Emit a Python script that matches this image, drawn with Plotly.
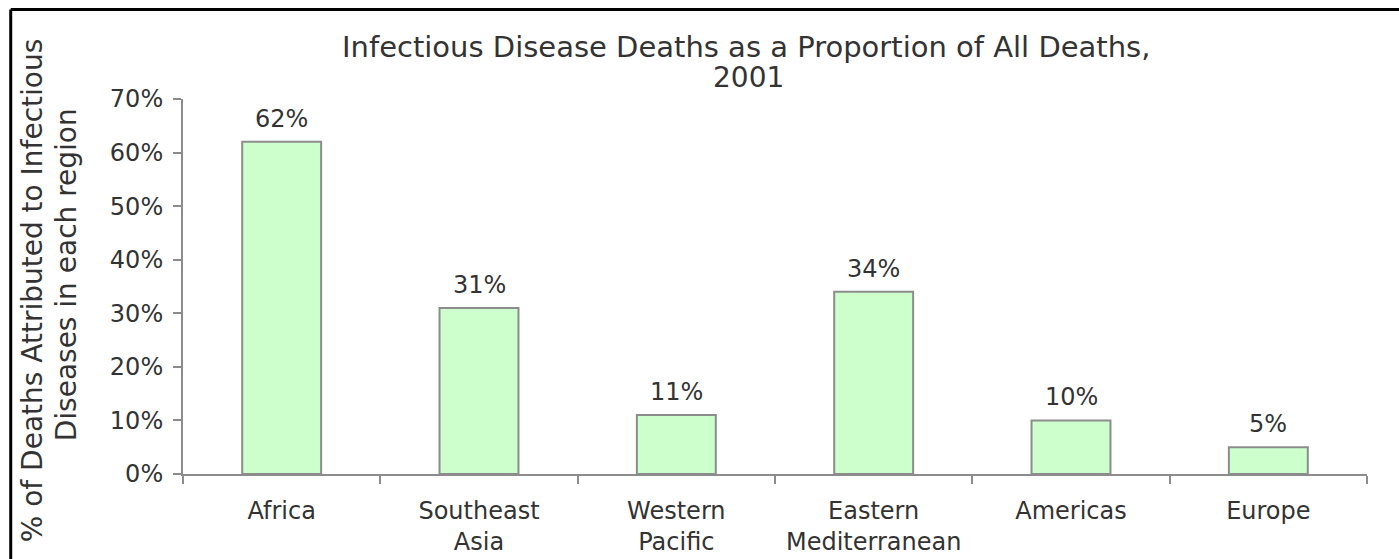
import plotly.graph_objects as go

# WHO regions and share of deaths from infectious disease, 2001
regions = ["Africa", "Southeast<br>Asia", "Western<br>Pacific",
           "Eastern<br>Mediterranean", "Americas", "Europe"]
share = [0.62, 0.31, 0.11, 0.34, 0.10, 0.05]

y_ticks = [0.0, 0.1, 0.2, 0.3, 0.4, 0.5, 0.6, 0.7]

TEXT = "#333333"
AXIS = "#8c8c8c"
FONT = "DejaVu Sans"

fig = go.Figure()
fig.add_trace(go.Bar(
    x=regions,
    y=share,
    width=0.4,
    marker=dict(color="#ccffcc", line=dict(color=AXIS, width=2)),
    hoverinfo="skip",
))

# value labels above each bar
annotations = [
    dict(x=r, y=v, xref="x", yref="y", text=f"{v:.0%}", showarrow=False,
         yanchor="middle", yshift=23, font=dict(family=FONT, size=24, color=TEXT))
    for r, v in zip(regions, share)
]

# two-line chart title
annotations += [
    dict(x=0.4755, y=1.1387, xref="paper", yref="paper",
         text="Infectious Disease Deaths as a Proportion of All Deaths,",
         showarrow=False, xanchor="center", yanchor="middle",
         font=dict(family=FONT, size=29, color=TEXT)),
    dict(x=0.4780, y=1.056, xref="paper", yref="paper", text="2001",
         showarrow=False, xanchor="center", yanchor="middle",
         font=dict(family=FONT, size=28, color=TEXT)),
]

# two-line rotated y-axis title
annotations += [
    dict(x=-0.1275, y=0.49, xref="paper", yref="paper",
         text="% of Deaths Attributed to Infectious", textangle=-90,
         showarrow=False, xanchor="center", yanchor="middle",
         font=dict(family=FONT, size=28, color=TEXT)),
    dict(x=-0.0988, y=0.53, xref="paper", yref="paper",
         text="Diseases in each region", textangle=-90,
         showarrow=False, xanchor="center", yanchor="middle",
         font=dict(family=FONT, size=28, color=TEXT)),
]

# black frame along the top and left edges
shapes = [
    dict(type="line", xref="paper", yref="paper",
         x0=-0.1455, x1=1.05, y0=1.2387, y1=1.2387,
         line=dict(color="black", width=3)),
    dict(type="line", xref="paper", yref="paper",
         x0=-0.1455, x1=-0.1455, y0=1.2387, y1=-0.25,
         line=dict(color="black", width=3)),
]

fig.update_layout(
    width=1399, height=559,
    margin=dict(l=183, r=32, t=99, b=85, autoexpand=False),
    paper_bgcolor="white", plot_bgcolor="white",
    showlegend=False,
    annotations=annotations,
    shapes=shapes,
    font=dict(family=FONT, size=24, color=TEXT),
)
fig.update_xaxes(
    automargin=False,
    showline=True, linecolor=AXIS, linewidth=2,
    ticks="outside", ticklen=8, tickwidth=2, tickcolor=AXIS,
    tickson="boundaries", showgrid=False,
    ticklabelstandoff=14,
    tickfont=dict(family=FONT, size=24, color=TEXT),
)
fig.update_yaxes(
    automargin=False,
    range=[0, 0.7], tickvals=y_ticks, tickformat=".0%",
    showline=True, linecolor=AXIS, linewidth=2,
    ticks="outside", ticklen=8, tickwidth=2, tickcolor=AXIS,
    showgrid=False, zeroline=False,
    ticklabelstandoff=5,
    tickfont=dict(family=FONT, size=24, color=TEXT),
)

fig.write_html("out.html")
